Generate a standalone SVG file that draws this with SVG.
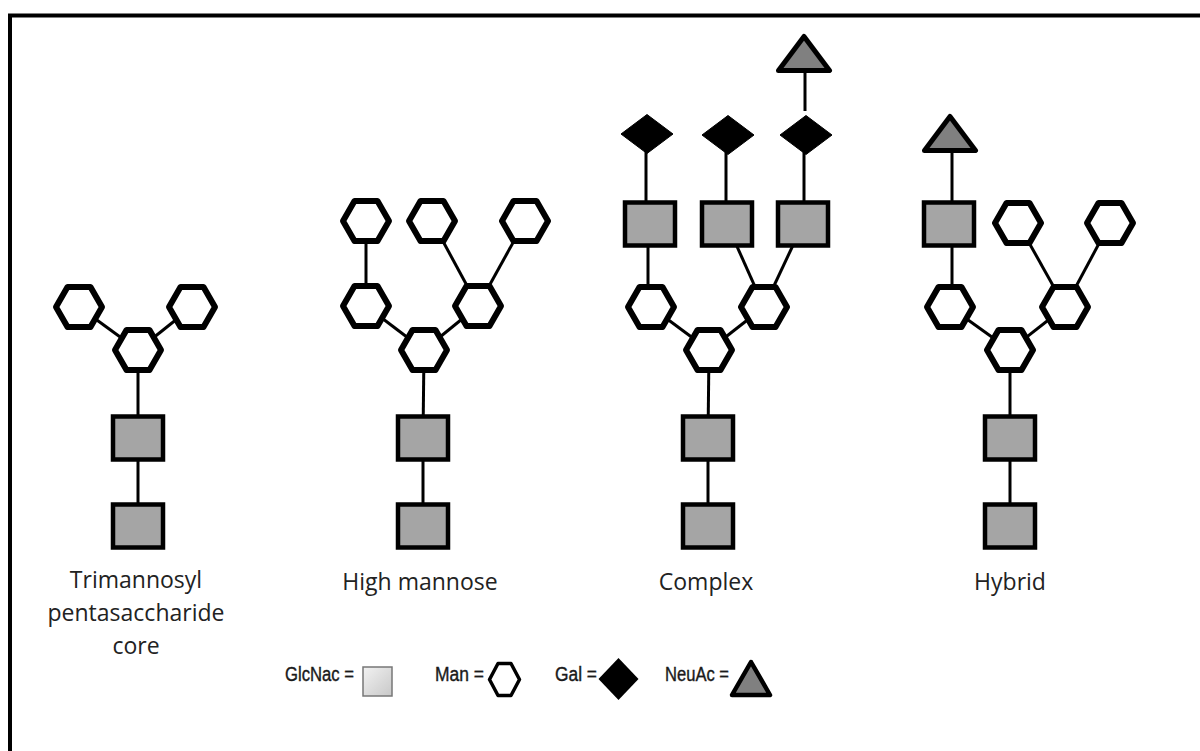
<svg xmlns="http://www.w3.org/2000/svg" xmlns:xlink="http://www.w3.org/1999/xlink" width="1200" height="751" viewBox="0 0 1200 751">
<style>
.frame{fill:none;stroke:#000;stroke-width:4}
.ln{stroke:#000;stroke-width:3;fill:none}
.hex{fill:#fff;stroke:#000;stroke-width:6;stroke-linejoin:round}
.sq{fill:#a5a5a5;stroke:#000;stroke-width:4.5}
.dia{fill:#000;stroke:#000;stroke-width:1}
.tri{fill:#808080;stroke:#000;stroke-width:5;stroke-linejoin:round}
.lbl{font-family:"Open Sans","Liberation Sans",sans-serif;font-size:23px;fill:#222;text-anchor:middle}
.leg{font-family:"Liberation Sans","DejaVu Sans",sans-serif;font-size:20px;fill:#1a1a1a;stroke:#1a1a1a;stroke-width:0.4}
</style>
<defs>
<path id="hex" d="M-23,0 L-11.5,-20 L11.5,-20 L23,0 L11.5,20 L-11.5,20 Z"/>
<rect id="sq" x="-25" y="-21.5" width="50" height="43"/>
<path id="dia" d="M0,-19.5 L26,0 L0,19.5 L-26,0 Z"/>
<path id="tri" d="M0,-17 L25.5,17 L-25.5,17 Z"/>
<linearGradient id="lg" x1="0" y1="0" x2="1" y2="1">
<stop offset="0" stop-color="#f2f2f2"/>
<stop offset="1" stop-color="#c8c8c8"/>
</linearGradient>
</defs>
<rect class="frame" x="10" y="15.5" width="1200" height="800"/>
<g id="connectors">
<line class="ln" x1="138" y1="438" x2="138" y2="526"/>
<line class="ln" x1="138" y1="350" x2="138" y2="438"/>
<line class="ln" x1="138" y1="350" x2="79" y2="307"/>
<line class="ln" x1="138" y1="350" x2="192" y2="307"/>
<line class="ln" x1="423" y1="438" x2="423" y2="526"/>
<line class="ln" x1="424" y1="350" x2="423" y2="438"/>
<line class="ln" x1="424" y1="350" x2="366" y2="306"/>
<line class="ln" x1="366" y1="306" x2="366" y2="221"/>
<line class="ln" x1="424" y1="350" x2="478" y2="306"/>
<line class="ln" x1="478" y1="306" x2="432" y2="221"/>
<line class="ln" x1="478" y1="306" x2="525" y2="221"/>
<line class="ln" x1="708" y1="438" x2="708" y2="526"/>
<line class="ln" x1="709" y1="350" x2="708" y2="438"/>
<line class="ln" x1="709" y1="350" x2="651" y2="307"/>
<line class="ln" x1="709" y1="350" x2="764" y2="307"/>
<line class="ln" x1="648" y1="307" x2="648" y2="224"/>
<line class="ln" x1="764" y1="307" x2="727" y2="224"/>
<line class="ln" x1="764" y1="307" x2="803" y2="224"/>
<line class="ln" x1="646" y1="150" x2="646" y2="204"/>
<line class="ln" x1="726" y1="150" x2="726" y2="204"/>
<line class="ln" x1="804" y1="150" x2="804" y2="204"/>
<line class="ln" x1="805" y1="72" x2="805" y2="111"/>
<line class="ln" x1="1010" y1="438" x2="1010" y2="526"/>
<line class="ln" x1="1010" y1="350" x2="1010" y2="438"/>
<line class="ln" x1="1010" y1="350" x2="950" y2="307"/>
<line class="ln" x1="1010" y1="350" x2="1065" y2="307"/>
<line class="ln" x1="1065" y1="307" x2="1018" y2="223"/>
<line class="ln" x1="1065" y1="307" x2="1110" y2="223"/>
<line class="ln" x1="952" y1="307" x2="952" y2="224"/>
<line class="ln" x1="952" y1="150" x2="952" y2="204"/>
</g>
<g id="t-glcnac1"><use href="#sq" class="sq" x="138" y="526"/></g>
<g id="t-glcnac2"><use href="#sq" class="sq" x="138" y="438"/></g>
<g id="t-man1"><use href="#hex" class="hex" x="138" y="350"/></g>
<g id="t-man2"><use href="#hex" class="hex" x="79" y="307"/></g>
<g id="t-man3"><use href="#hex" class="hex" x="192" y="307"/></g>
<g id="h-glcnac1"><use href="#sq" class="sq" x="423" y="526"/></g>
<g id="h-glcnac2"><use href="#sq" class="sq" x="423" y="438"/></g>
<g id="h-man1"><use href="#hex" class="hex" x="424" y="350"/></g>
<g id="h-man2"><use href="#hex" class="hex" x="366" y="306"/></g>
<g id="h-man3"><use href="#hex" class="hex" x="366" y="221"/></g>
<g id="h-man4"><use href="#hex" class="hex" x="478" y="306"/></g>
<g id="h-man5"><use href="#hex" class="hex" x="432" y="221"/></g>
<g id="h-man6"><use href="#hex" class="hex" x="525" y="221"/></g>
<g id="c-glcnac1"><use href="#sq" class="sq" x="708" y="526"/></g>
<g id="c-glcnac2"><use href="#sq" class="sq" x="708" y="438"/></g>
<g id="c-man1"><use href="#hex" class="hex" x="709" y="350"/></g>
<g id="c-man2"><use href="#hex" class="hex" x="651" y="307"/></g>
<g id="c-man3"><use href="#hex" class="hex" x="764" y="307"/></g>
<g id="c-glcnac3"><use href="#sq" class="sq" x="650" y="224"/></g>
<g id="c-glcnac4"><use href="#sq" class="sq" x="727" y="224"/></g>
<g id="c-glcnac5"><use href="#sq" class="sq" x="803" y="224"/></g>
<g id="c-gal1"><use href="#dia" class="dia" x="647" y="134"/></g>
<g id="c-gal2"><use href="#dia" class="dia" x="728" y="135"/></g>
<g id="c-gal3"><use href="#dia" class="dia" x="806" y="135"/></g>
<g id="c-neuac"><use href="#tri" class="tri" x="804" y="53.5"/></g>
<g id="y-glcnac1"><use href="#sq" class="sq" x="1010" y="526"/></g>
<g id="y-glcnac2"><use href="#sq" class="sq" x="1010" y="438"/></g>
<g id="y-man1"><use href="#hex" class="hex" x="1010" y="350"/></g>
<g id="y-man2"><use href="#hex" class="hex" x="950" y="307"/></g>
<g id="y-man3"><use href="#hex" class="hex" x="1065" y="307"/></g>
<g id="y-man4"><use href="#hex" class="hex" x="1018" y="223"/></g>
<g id="y-man5"><use href="#hex" class="hex" x="1110" y="223"/></g>
<g id="y-glcnac3"><use href="#sq" class="sq" x="949" y="224"/></g>
<g id="y-neuac"><use href="#tri" class="tri" x="950" y="133.5"/></g>
<g id="labels">
<text class="lbl" x="136" y="588">Trimannosyl</text>
<text class="lbl" x="136" y="621">pentasaccharide</text>
<text class="lbl" x="136" y="654">core</text>
<text class="lbl" x="420" y="590">High mannose</text>
<text class="lbl" x="706" y="590">Complex</text>
<text class="lbl" x="1010" y="590">Hybrid</text>
</g>
<g id="legend">
<text class="leg" x="285" y="681" textLength="69" lengthAdjust="spacingAndGlyphs">GlcNac =</text>
<rect x="363" y="667" width="29" height="29" fill="url(#lg)" stroke="#777" stroke-width="1.5"/>
<text class="leg" x="435" y="681" textLength="49" lengthAdjust="spacingAndGlyphs">Man =</text>
<path d="M498,663.5 L511,663.5 L519.5,679.5 L511,695.5 L498,695.5 L489.5,679.5 Z" fill="#fff" stroke="#000" stroke-width="3.5" stroke-linejoin="round"/>
<text class="leg" x="555" y="681" textLength="42" lengthAdjust="spacingAndGlyphs">Gal =</text>
<path d="M618.5,658 L638.5,679 L618.5,700 L598.5,679 Z" fill="#000"/>
<text class="leg" x="665" y="681" textLength="64" lengthAdjust="spacingAndGlyphs">NeuAc =</text>
<path d="M751,662 L770,695 L732,695 Z" fill="#808080" stroke="#000" stroke-width="4.5" stroke-linejoin="round"/>
</g>
</svg>
